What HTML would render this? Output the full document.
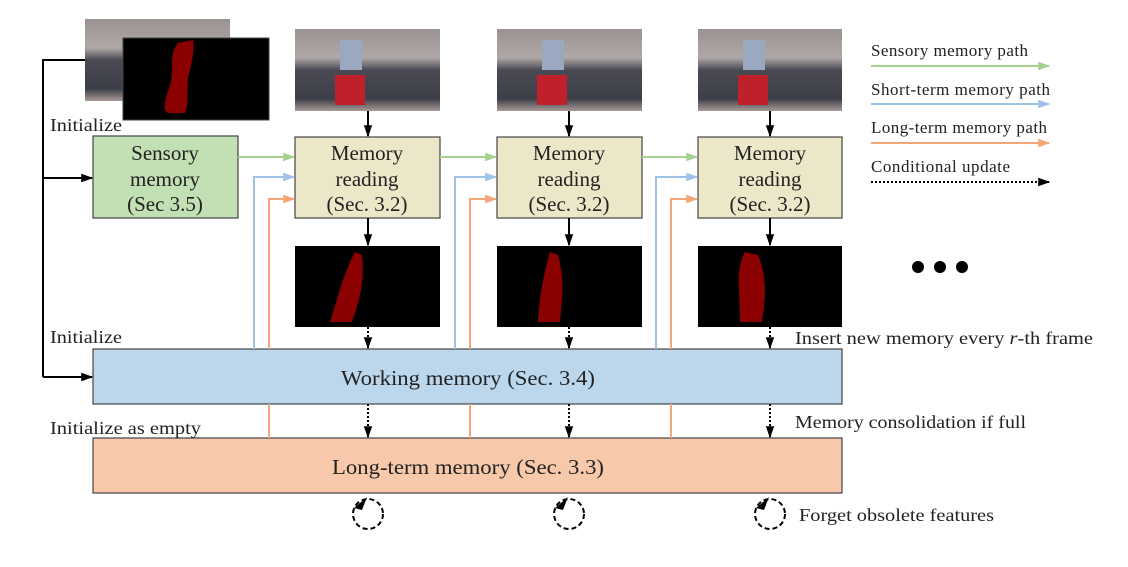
<!DOCTYPE html>
<html><head><meta charset="utf-8"><style>
html,body{margin:0;padding:0;background:#fff;}
svg{display:block;font-family:"Liberation Serif",serif;}
</style></head><body>
<svg width="1128" height="567" viewBox="0 0 1128 567" xmlns="http://www.w3.org/2000/svg">
<defs>
<linearGradient id="ph" x1="0" y1="0" x2="0" y2="1">
<stop offset="0" stop-color="#9a9290"/><stop offset="0.35" stop-color="#b0a8a6"/>
<stop offset="0.5" stop-color="#4a4a54"/><stop offset="0.85" stop-color="#3c3e48"/><stop offset="1" stop-color="#a89a96"/>
</linearGradient>
<marker id="ak" viewBox="0 0 10 10" refX="9" refY="5" markerWidth="6" markerHeight="6" orient="auto"><path d="M0,1.5 L10,5 L0,8.5 z" fill="#000"/></marker>
<marker id="ag" viewBox="0 0 10 10" refX="9" refY="5" markerWidth="6" markerHeight="6" orient="auto"><path d="M0,1.5 L10,5 L0,8.5 z" fill="#a6d190"/></marker>
<marker id="ab" viewBox="0 0 10 10" refX="9" refY="5" markerWidth="6" markerHeight="6" orient="auto"><path d="M0,1.5 L10,5 L0,8.5 z" fill="#9ec2e8"/></marker>
<marker id="ao" viewBox="0 0 10 10" refX="9" refY="5" markerWidth="6" markerHeight="6" orient="auto"><path d="M0,1.5 L10,5 L0,8.5 z" fill="#f5a679"/></marker>
</defs>

<rect x="85" y="19" width="145" height="82" fill="url(#ph)"/>
<rect x="123" y="38" width="146" height="82" fill="#000" stroke="#444"/>
<path d="M178,43 C168,55 175,70 170,85 C165,100 162,110 168,113 L185,113 C190,100 185,85 190,70 C192,60 195,50 193,40 Z" fill="#8b0000"/>

<g>
<rect x="295" y="29" width="145" height="82" fill="url(#ph)"/><rect x="335" y="75" width="30" height="30" fill="#c0202a"/><rect x="340" y="40" width="22" height="30" fill="#9aa8c0"/>
<rect x="497" y="29" width="145" height="82" fill="url(#ph)"/><rect x="537" y="75" width="30" height="30" fill="#c0202a"/><rect x="542" y="40" width="22" height="30" fill="#9aa8c0"/>
<rect x="698" y="29" width="144" height="82" fill="url(#ph)"/><rect x="738" y="75" width="30" height="30" fill="#c0202a"/><rect x="743" y="40" width="22" height="30" fill="#9aa8c0"/>
</g>

<rect x="295" y="246" width="145" height="81" fill="#000"/>
<path d="M355,252 C345,270 340,290 330,322 L352,322 C360,300 365,280 362,255 Z" fill="#8b0000"/>
<rect x="497" y="246" width="145" height="81" fill="#000"/>
<path d="M550,252 C545,270 540,290 538,322 L560,322 C562,300 565,280 558,255 Z" fill="#8b0000"/>
<rect x="698" y="246" width="144" height="81" fill="#000"/>
<path d="M745,252 C735,270 740,290 740,322 L762,322 C765,300 768,280 758,255 Z" fill="#8b0000"/>

<rect x="93" y="136" width="145" height="82" fill="#c3dfb4" stroke="#444" stroke-width="1.2"/>
<g font-size="21" fill="#222" text-anchor="middle">
<text><tspan x="165" y="160">Sensory</tspan><tspan x="165" y="186">memory</tspan><tspan x="165" y="211">(Sec 3.5)</tspan></text>
<rect x="295" y="137" width="145" height="81" fill="#ede7c9" stroke="#444" stroke-width="1.2"/>
<text><tspan x="367" y="160">Memory</tspan><tspan x="367" y="186">reading</tspan><tspan x="367" y="211">(Sec. 3.2)</tspan></text>
<rect x="497" y="137" width="145" height="81" fill="#ede7c9" stroke="#444" stroke-width="1.2"/>
<text><tspan x="569" y="160">Memory</tspan><tspan x="569" y="186">reading</tspan><tspan x="569" y="211">(Sec. 3.2)</tspan></text>
<rect x="698" y="137" width="144" height="81" fill="#ede7c9" stroke="#444" stroke-width="1.2"/>
<text><tspan x="770" y="160">Memory</tspan><tspan x="770" y="186">reading</tspan><tspan x="770" y="211">(Sec. 3.2)</tspan></text>
</g>
<rect x="93" y="349" width="749" height="55" fill="#bcd6ec" stroke="#444" stroke-width="1.2"/>
<text x="341" y="385" font-size="21" fill="#222" textLength="254" lengthAdjust="spacingAndGlyphs">Working memory (Sec. 3.4)</text>
<rect x="93" y="438" width="749" height="55" fill="#f7c8aa" stroke="#444" stroke-width="1.2"/>
<text x="332" y="474" font-size="21" fill="#222" textLength="272" lengthAdjust="spacingAndGlyphs">Long-term memory (Sec. 3.3)</text>

<g stroke="#000" stroke-width="2" fill="none">
<path d="M85,60 H43 V377"/>
<path d="M43,178 H92" marker-end="url(#ak)"/>
<path d="M43,377 H92" marker-end="url(#ak)"/>
</g>

<g stroke="#a6d190" stroke-width="2" fill="none">
<path d="M238,157 H294" marker-end="url(#ag)"/>
<path d="M440,157 H496" marker-end="url(#ag)"/>
<path d="M642,157 H697" marker-end="url(#ag)"/>
</g>
<g stroke="#9ec2e8" stroke-width="2" fill="none">
<path d="M254,349 V177 H294" marker-end="url(#ab)"/>
<path d="M455,349 V177 H496" marker-end="url(#ab)"/>
<path d="M656,349 V177 H697" marker-end="url(#ab)"/>
</g>
<g stroke="#f5a679" stroke-width="2" fill="none">
<path d="M269,438 V404 M269,349 V199 H294" marker-end="url(#ao)"/>
<path d="M470,438 V404 M470,349 V199 H496" marker-end="url(#ao)"/>
<path d="M671,438 V404 M671,349 V199 H697" marker-end="url(#ao)"/>
</g>

<g stroke="#000" stroke-width="2" fill="none">
<path d="M368,111 V136" marker-end="url(#ak)"/><path d="M569,111 V136" marker-end="url(#ak)"/><path d="M770,111 V136" marker-end="url(#ak)"/>
<path d="M368,218 V245" marker-end="url(#ak)"/><path d="M569,218 V245" marker-end="url(#ak)"/><path d="M770,218 V245" marker-end="url(#ak)"/>
</g>
<g stroke="#000" stroke-width="2" stroke-dasharray="2,2" fill="none">
<path d="M368,327 V348" marker-end="url(#ak)"/><path d="M569,327 V348" marker-end="url(#ak)"/><path d="M770,327 V348" marker-end="url(#ak)"/>
<path d="M368,404 V437" marker-end="url(#ak)"/><path d="M569,404 V437" marker-end="url(#ak)"/><path d="M770,404 V437" marker-end="url(#ak)"/>
</g>

<g stroke="#000" stroke-width="2" stroke-dasharray="5,3" fill="none">
<circle cx="368" cy="514" r="15"/><circle cx="569" cy="514" r="15"/><circle cx="770" cy="514" r="15"/>
</g>
<g fill="#000">
<path d="M354,508 L367,497 L362,510 Z"/><path d="M555,508 L568,497 L563,510 Z"/><path d="M756,508 L769,497 L764,510 Z"/>
</g>

<circle cx="918" cy="267" r="6"/><circle cx="940" cy="267" r="6"/><circle cx="962" cy="267" r="6"/>

<g font-size="17" fill="#222" lengthAdjust="spacingAndGlyphs">
<text x="871" y="56" textLength="157">Sensory memory path</text>
<text x="871" y="95" textLength="179">Short-term memory path</text>
<text x="871" y="133" textLength="176">Long-term memory path</text>
<text x="871" y="172" textLength="139">Conditional update</text>
</g>
<path d="M871,66 H1049" stroke="#a6d190" stroke-width="2" marker-end="url(#ag)"/>
<path d="M871,104 H1049" stroke="#9ec2e8" stroke-width="2" marker-end="url(#ab)"/>
<path d="M871,143 H1049" stroke="#f5a679" stroke-width="2" marker-end="url(#ao)"/>
<path d="M871,182 H1049" stroke="#000" stroke-width="2" stroke-dasharray="2,2" marker-end="url(#ak)"/>

<g font-size="18" fill="#222">
<text x="50" y="131" textLength="72" lengthAdjust="spacingAndGlyphs">Initialize</text>
<text x="50" y="343" textLength="72" lengthAdjust="spacingAndGlyphs">Initialize</text>
<text x="50" y="434" textLength="151" lengthAdjust="spacingAndGlyphs">Initialize as empty</text>
<text x="795" y="344" textLength="298" lengthAdjust="spacingAndGlyphs">Insert new memory every <tspan font-style="italic">r</tspan>-th frame</text>
<text x="795" y="428" textLength="231" lengthAdjust="spacingAndGlyphs">Memory consolidation if full</text>
<text x="799" y="521" textLength="195" lengthAdjust="spacingAndGlyphs">Forget obsolete features</text>
</g>
</svg>
</body></html>
